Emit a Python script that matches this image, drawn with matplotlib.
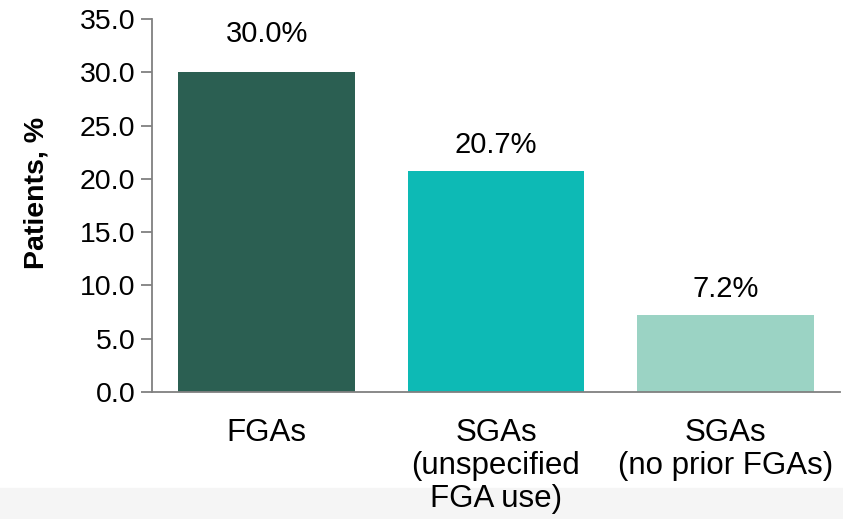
import matplotlib
matplotlib.use("Agg")
import matplotlib.pyplot as plt
from matplotlib.patches import Rectangle

categories = ["FGAs", "SGAs\n(unspecified\nFGA use)", "SGAs\n(no prior FGAs)"]
values = [30.0, 20.7, 7.2]
value_labels = ["30.0%", "20.7%", "7.2%"]
label_offsets_px = [30, 18, 18]
colors = ["#2b5f52", "#0dbab5", "#9bd3c4"]
yticks = [0, 5, 10, 15, 20, 25, 30, 35]

plt.rcParams['font.family'] = ['Liberation Sans', 'DejaVu Sans']

fig = plt.figure(figsize=(8.43, 5.19), dpi=100)
fig.patches.append(Rectangle((0, 0), 1, 31/519, transform=fig.transFigure,
                             color="#f5f5f5", zorder=-10))
ax = fig.add_axes([152/843, 1-392/519, (840-152)/843, (392-19)/519])
ax.patch.set_alpha(0)

x = range(len(categories))
ax.bar(x, values, width=0.77, color=colors)
for xi, v, lab, off in zip(x, values, value_labels, label_offsets_px):
    ax.annotate(lab, (xi, v), xytext=(0, off * 0.72), textcoords="offset points",
                ha="center", va="baseline", fontsize=21)

ax.set_xlim(-0.5, 2.5)
ax.set_ylim(0, 35)
ax.set_yticks(yticks)
ax.set_yticklabels([f"{t:.1f}" for t in yticks], fontsize=20.5)
ax.set_xticks(list(x))
ax.set_xticklabels(categories, fontsize=22.5, linespacing=1.12)
ax.tick_params(axis="x", length=0, pad=19)
ax.tick_params(axis="y", length=8, width=1.3, color="#808080", pad=4)
for s in ["top", "right"]:
    ax.spines[s].set_visible(False)
for s in ["left", "bottom"]:
    ax.spines[s].set_color("#808080")
    ax.spines[s].set_linewidth(1.3)
ax.set_ylabel("Patients, %", fontsize=20.5, fontweight="bold")
ax.yaxis.set_label_coords(50/843, 1-193/519, transform=fig.transFigure)

fig.savefig("out.png", dpi=100)
